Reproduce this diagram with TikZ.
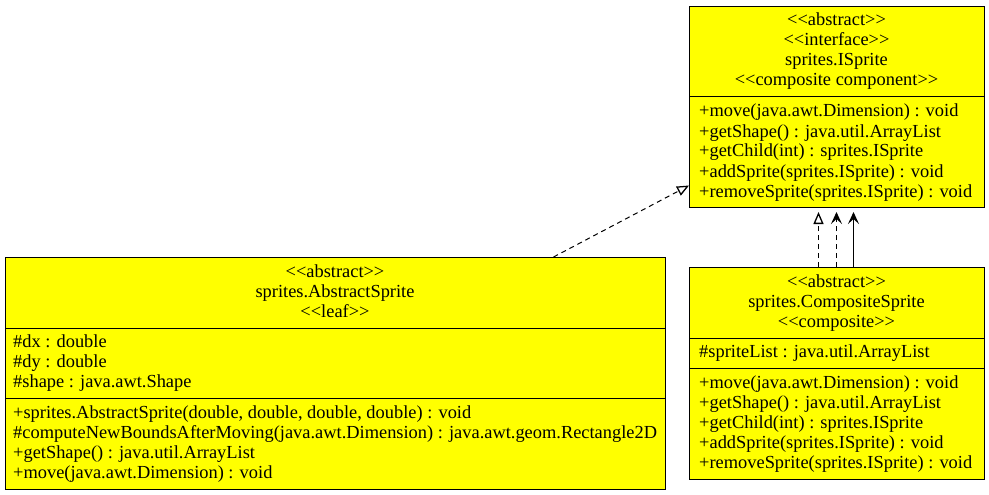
\documentclass[tikz,border=0pt]{standalone}
\usepackage{fontspec}
\setmainfont{Liberation Serif}[Ligatures=TeXOff]
\usepackage{tikz}
\usetikzlibrary{arrows.meta,positioning,calc}

\definecolor{umlyellow}{HTML}{FFFF00}
\newcommand{\stereo}[1]{\textless\textless#1\textgreater\textgreater}

\tikzset{
  classbox/.style={draw, fill=umlyellow, line width=1pt, anchor=north west, inner sep=0pt},
  uml/.style={font=\fontsize{18.4}{20}\selectfont, inner sep=0pt},
  realize/.style={line width=1pt, dash pattern=on 5pt off 4pt, -{Triangle[open,length=12pt,width=10pt,line width=1.3pt]}},
  depend/.style={line width=1pt, dash pattern=on 5pt off 4pt, -{Stealth[length=12pt,width=11pt,inset=5pt,line width=1.5pt]}},
  assoc/.style={line width=1pt, -{Stealth[length=12pt,width=11pt,inset=5pt,line width=1.5pt]}}
}

\begin{document}
\begin{tikzpicture}[x=1pt,y=-1pt]

  \useasboundingbox (0,0) rectangle (989,495);

  % interface
  \node[classbox, minimum width=295, minimum height=201] (isprite) at (689,6) {};
  \draw[line width=1pt] (689,97) -- (984,97);
  \foreach \t [count=\i] in {\stereo{abstract}, \stereo{interface}, sprites.ISprite, \stereo{composite component}}
    \node[uml, anchor=base] (isprite-h\i) at (836.5,6+20*\i) {\t};
  \foreach \t [count=\i] in {+move(java.awt.Dimension) : void, +getShape() : java.util.ArrayList,
      +getChild(int) : sprites.ISprite, +addSprite(sprites.ISprite) : void, +removeSprite(sprites.ISprite) : void}
    \node[uml, anchor=base west] (isprite-m\i) at (699,97+20*\i) {\t};

  % leaf
  \node[classbox, minimum width=660, minimum height=232] (abstract) at (5,257) {};
  \draw[line width=1pt] (5,328) -- (665,328);
  \draw[line width=1pt] (5,398) -- (665,398);
  \foreach \t [count=\i] in {\stereo{abstract}, sprites.AbstractSprite, \stereo{leaf}}
    \node[uml, anchor=base] (abstract-h\i) at (335,257+20*\i) {\t};
  \foreach \t [count=\i] in {\#dx : double, \#dy : double, \#shape : java.awt.Shape}
    \node[uml, anchor=base west] (abstract-a\i) at (13,327+20*\i) {\t};
  \foreach \t [count=\i] in {{+sprites.AbstractSprite(double, double, double, double) : void},
      \#computeNewBoundsAfterMoving(java.awt.Dimension) : java.awt.geom.Rectangle2D,
      +getShape() : java.util.ArrayList, +move(java.awt.Dimension) : void}
    \node[uml, anchor=base west] (abstract-m\i) at (13,398+20*\i) {\t};

  % composite
  \node[classbox, minimum width=295, minimum height=212] (composite) at (689,267) {};
  \draw[line width=1pt] (689,338) -- (984,338);
  \draw[line width=1pt] (689,368) -- (984,368);
  \foreach \t [count=\i] in {\stereo{abstract}, sprites.CompositeSprite, \stereo{composite}}
    \node[uml, anchor=base] (composite-h\i) at (836.5,267+20*\i) {\t};
  \node[uml, anchor=base west] (composite-a1) at (699,357) {\#spriteList : java.util.ArrayList};
  \foreach \t [count=\i] in {+move(java.awt.Dimension) : void, +getShape() : java.util.ArrayList,
      +getChild(int) : sprites.ISprite, +addSprite(sprites.ISprite) : void, +removeSprite(sprites.ISprite) : void}
    \node[uml, anchor=base west] (composite-m\i) at (699,368+20*\i) {\t};

  % relations
  \draw[realize] ([xshift=218]abstract.north) -- ([yshift=-78.5]isprite.west);
  \draw[realize, shorten >=4pt] ([xshift=-18.5]composite.north) -- ([xshift=-18.5]isprite.south);
  \draw[depend, shorten >=4pt] ([xshift=-0.5]composite.north) -- ([xshift=-0.5]isprite.south);
  \draw[assoc, shorten >=4pt] ([xshift=16.5]composite.north) -- ([xshift=16.5]isprite.south);

\end{tikzpicture}
\end{document}
